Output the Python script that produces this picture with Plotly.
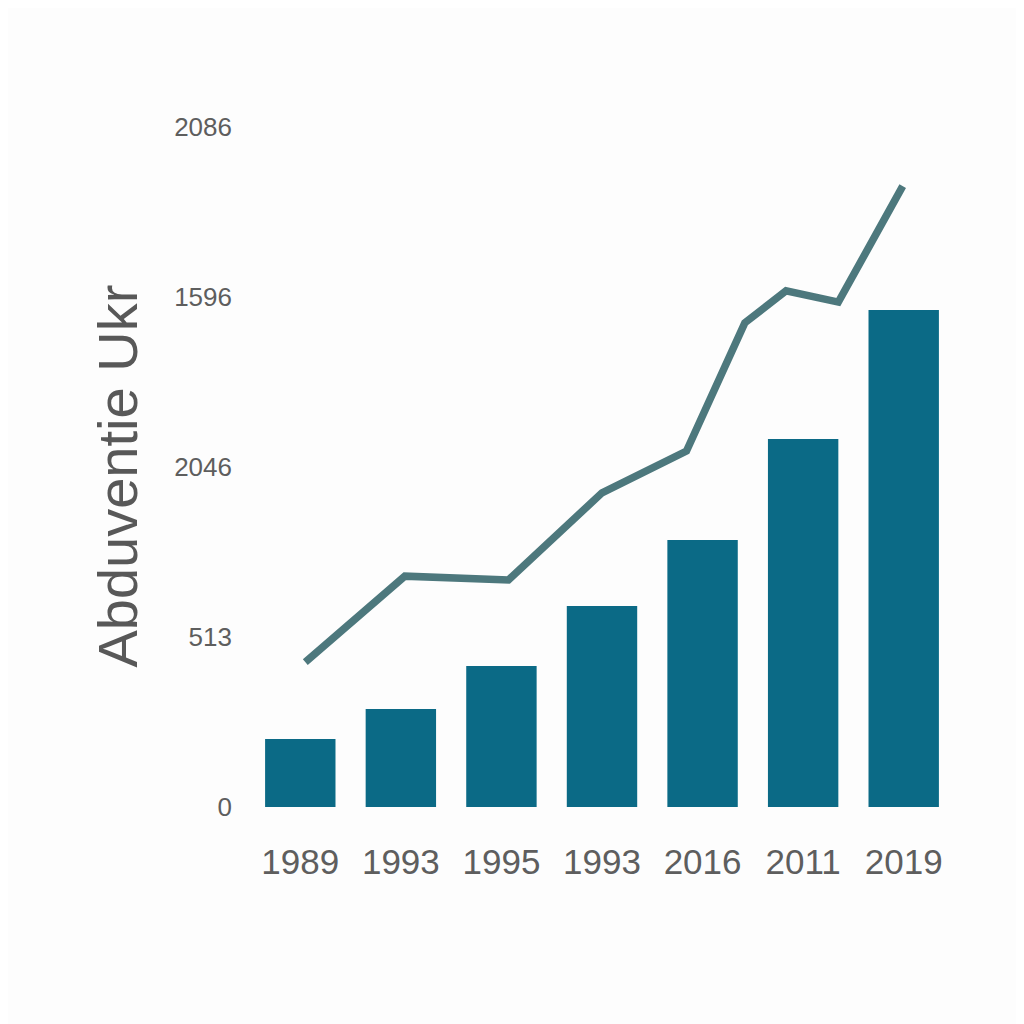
import plotly.graph_objects as go

# Data
x_labels = ["1989", "1993", "1995", "1993", "2016", "2011", "2019"]
bar_values = [200, 288, 415, 591, 785, 1082, 1462]

line_x = [0.05, 1.04, 2.07, 3.0, 3.84, 4.42, 4.83, 5.35, 5.99]
line_values = [426, 679, 668, 924, 1047, 1424, 1518, 1485, 1826]

y_tickvals = [0, 500, 1000, 1500, 2000]
y_ticktext = ["0", "513", "2046", "1596", "2086"]

y_title = "Abduventie Ukr"

bar_color = "#0b6a86"
line_color = "#4d787d"
text_color = "#5e5e5e"

fig = go.Figure()
fig.add_trace(go.Bar(
    x=list(range(len(bar_values))),
    y=bar_values,
    width=0.7,
    marker=dict(color=bar_color, line=dict(width=0)),
    showlegend=False,
))
fig.add_trace(go.Scatter(
    x=line_x,
    y=line_values,
    mode="lines",
    line=dict(color=line_color, width=7.5),
    showlegend=False,
))

fig.update_layout(
    width=1024,
    height=1024,
    paper_bgcolor="#fdfdfd",
    plot_bgcolor="#fdfdfd",
    margin=dict(l=242, r=78, t=102, b=225),
    font=dict(family="Liberation Sans, Arial, sans-serif", color=text_color, size=25),
    xaxis=dict(
        range=[-0.5, 6.5],
        tickmode="array",
        tickvals=list(range(len(x_labels))),
        ticktext=x_labels,
        showgrid=False,
        zeroline=False,
        showline=False,
        ticks="",
        ticklabelstandoff=31,
        tickfont=dict(family="Liberation Sans, sans-serif", size=35, color=text_color),
    ),
    yaxis=dict(
        range=[0, 2050],
        tickmode="array",
        tickvals=y_tickvals,
        ticktext=y_ticktext,
        showgrid=False,
        zeroline=False,
        showline=False,
        ticks="",
        ticklabelstandoff=17,
        tickfont=dict(family="Liberation Sans, sans-serif", size=26, color=text_color),
    ),
    annotations=[dict(
        text=y_title,
        xref="paper", yref="paper",
        x=-0.188, y=0.475,
        xanchor="center", yanchor="middle",
        textangle=-90,
        showarrow=False,
        font=dict(family="Liberation Sans, sans-serif", size=56, color="#585858"),
    )],
)

fig.write_html("out.html")
